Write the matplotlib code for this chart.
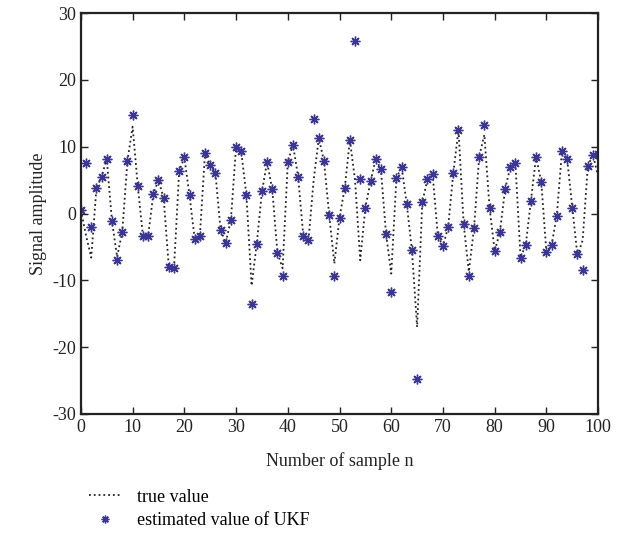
#!/usr/bin/env python3
"""
Plot UKF estimation against the true signal amplitude.
"""

import matplotlib
matplotlib.use("Agg")
import matplotlib.pyplot as plt
import numpy as np

# sample index
samples = list(range(101))

# true signal (dotted line)
true_value = [
    0.5, -3.3, -6.6, 3.8, 5.5, 8.2, -1.1, -6.5, -2.7, 7.9,
    13.0, 4.1, -3.4, -3.4, 2.9, 5.0, 2.3, -8.0, -8.2, 6.3,
    8.4, 2.7, -3.8, -3.4, 9.1, 7.2, 6.1, -2.4, -4.4, -0.9,
    10.0, 9.3, 2.7, -10.8, -4.5, 3.3, 7.7, 3.6, -5.9, -8.2,
    7.7, 10.3, 5.5, -3.4, -4.0, 5.0, 11.3, 7.8, -0.2, -7.5,
    -0.6, 3.8, 11.0, 5.0, -7.0, 0.9, 4.8, 8.2, 6.6, -3.1,
    -9.0, 5.3, 7.0, 1.4, -5.5, -17.0, 1.7, 5.1, 5.9, -3.3,
    -4.9, -2.0, 6.1, 12.5, -1.6, -8.7, -2.2, 8.5, 11.8, 0.9,
    -5.6, -2.8, 3.6, 6.9, 7.5, -6.6, -4.7, 1.9, 8.5, 4.7,
    -5.8, -4.7, -0.3, 9.3, 8.2, 0.9, -6.3, -4.0, 7.1, 8.8,
    5.5,
]

# UKF estimate (asterisk markers)
ukf_estimate = [
    0.5, 7.5, -2.0, 3.8, 5.5, 8.2, -1.1, -7.0, -2.7, 7.9,
    14.7, 4.1, -3.4, -3.4, 2.9, 5.0, 2.3, -8.0, -8.2, 6.3,
    8.4, 2.7, -3.8, -3.4, 9.1, 7.2, 6.1, -2.4, -4.4, -0.9,
    10.0, 9.3, 2.7, -13.5, -4.5, 3.3, 7.7, 3.6, -5.9, -9.3,
    7.7, 10.3, 5.5, -3.4, -4.0, 14.1, 11.3, 7.8, -0.2, -9.4,
    -0.6, 3.8, 11.0, 25.8, 5.1, 0.9, 4.8, 8.2, 6.6, -3.1,
    -11.7, 5.3, 7.0, 1.4, -5.5, -24.8, 1.7, 5.1, 5.9, -3.3,
    -4.9, -2.0, 6.1, 12.5, -1.6, -9.4, -2.2, 8.5, 13.3, 0.9,
    -5.6, -2.8, 3.6, 6.9, 7.5, -6.6, -4.7, 1.9, 8.5, 4.7,
    -5.8, -4.7, -0.3, 9.3, 8.2, 0.9, -6.1, -8.4, 7.1, 8.8,
    8.9,
]

x_ticks = list(range(0, 101, 10))
y_ticks = list(range(-30, 31, 10))

MARKER_COLOR = '#3b3598'
TEXT_COLOR = '#222222'


def main():
    plt.rcParams['font.family'] = ['Liberation Serif', 'DejaVu Serif']
    plt.rcParams['axes.unicode_minus'] = False

    fig = plt.figure(figsize=(6.27, 5.44), dpi=100)
    ax = fig.add_axes([0.129, 0.239, 0.825, 0.737])

    ax.plot(samples, true_value, linestyle=':', color=TEXT_COLOR,
            linewidth=1.3, label='true value')
    ax.plot(samples, ukf_estimate, linestyle='none', marker=(8, 2, 0),
            markersize=7, markeredgewidth=1.0, color=MARKER_COLOR,
            markeredgecolor=MARKER_COLOR, label='estimated value of UKF')

    ax.set_xlim(0, 100)
    ax.set_ylim(-30, 30)
    ax.set_xticks(x_ticks)
    ax.set_yticks(y_ticks)
    ax.tick_params(direction='in', top=True, right=True, length=5,
                   width=1.0, labelsize=13, colors=TEXT_COLOR)

    for spine in ax.spines.values():
        spine.set_linewidth(1.6)
        spine.set_color(TEXT_COLOR)

    ax.set_xlabel('Number of sample n', fontsize=13, color=TEXT_COLOR, labelpad=12)
    ax.set_ylabel('Signal amplitude', fontsize=13, color=TEXT_COLOR, labelpad=4)

    fig.legend(loc='upper left', bbox_to_anchor=(0.13, 0.115),
               frameon=False, fontsize=13, handlelength=1.8,
               handletextpad=0.9, labelspacing=0.35, numpoints=1,
               markerscale=0.8, borderaxespad=0)

    fig.savefig('out.png', dpi=100)
    plt.close(fig)


if __name__ == "__main__":
    main()
